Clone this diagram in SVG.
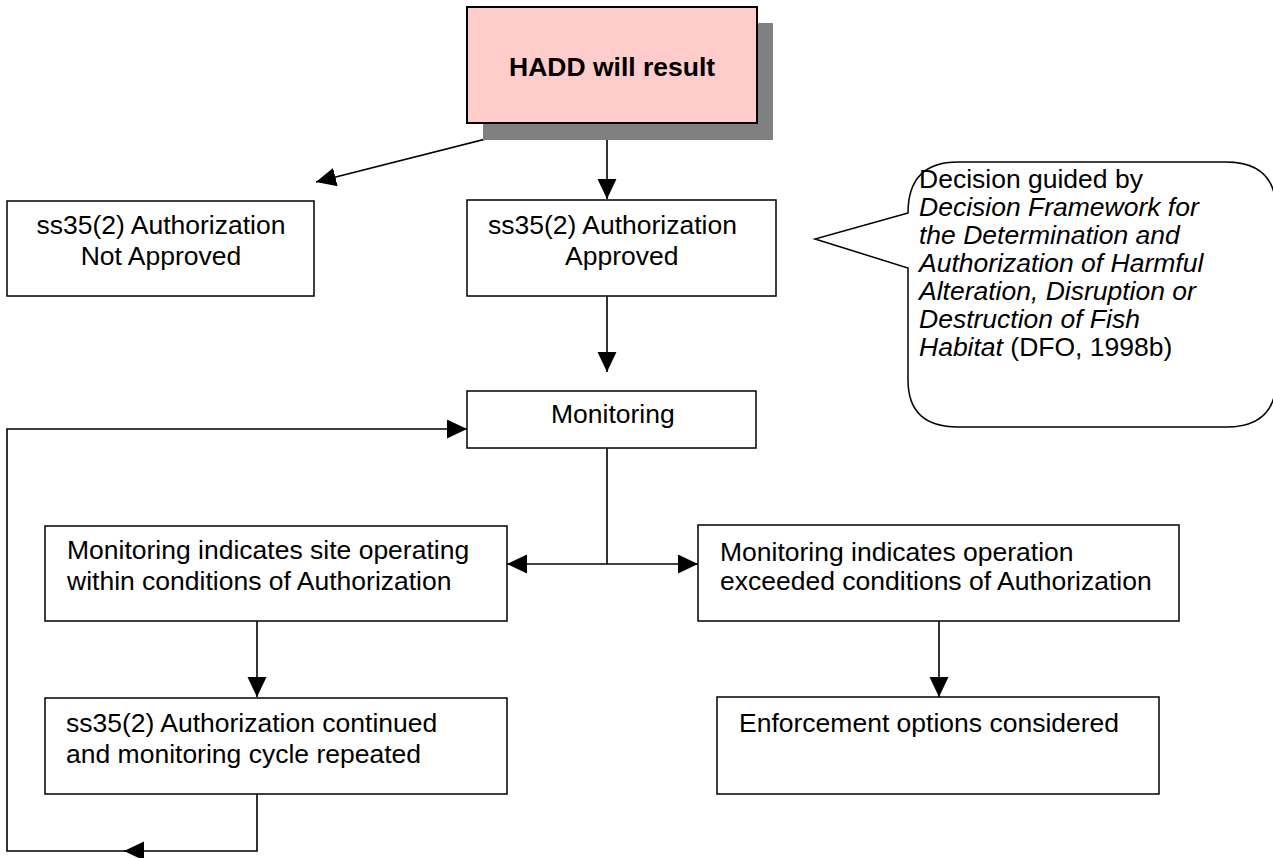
<svg xmlns="http://www.w3.org/2000/svg" width="1273" height="858" viewBox="0 0 1273 858">
<style>
text{font-family:"Liberation Sans",Arial,sans-serif;font-size:26.5px;fill:#000}
.box{fill:#fff;stroke:#000;stroke-width:1.5}
.c{fill:none;stroke:#000;stroke-width:1.6}
.b{font-weight:bold}
.i{font-style:italic}
</style>
<defs>
<marker id="ah" markerUnits="userSpaceOnUse" markerWidth="21" markerHeight="20" refX="20" refY="9.5" orient="auto">
<path d="M0,0 L20,9.5 L0,19 Z" fill="#000"/>
</marker>
</defs>
<rect width="1273" height="858" fill="#fff"/>
<g id="connectors">
<line class="c" x1="545" y1="124" x2="316" y2="182" marker-end="url(#ah)"/>
<line class="c" x1="607" y1="124" x2="607" y2="199" marker-end="url(#ah)"/>
<line class="c" x1="607" y1="296" x2="607" y2="372" marker-end="url(#ah)"/>
<line class="c" x1="607" y1="448" x2="607" y2="564"/>
<line class="c" x1="607" y1="564" x2="507" y2="564" marker-end="url(#ah)"/>
<line class="c" x1="607" y1="564" x2="698" y2="564" marker-end="url(#ah)"/>
<line class="c" x1="257" y1="621" x2="257" y2="697" marker-end="url(#ah)"/>
<line class="c" x1="939" y1="621" x2="939" y2="697" marker-end="url(#ah)"/>
<polyline class="c" points="257,794 257,851 124,851" marker-end="url(#ah)"/>
<polyline class="c" points="143,851 7,851 7,429 467,429" marker-end="url(#ah)"/>
</g>
<g id="hadd">
<rect x="483" y="23" width="290" height="117" fill="#808080"/>
<rect x="467" y="7" width="290" height="116" fill="#ffcccc" stroke="#000" stroke-width="2"/>
<text class="b" x="509" y="76">HADD will result</text>
</g>
<g id="not-approved">
<rect class="box" x="7" y="201" width="307" height="95"/>
<text x="161" y="234" text-anchor="middle">ss35(2) Authorization</text>
<text x="161" y="265" text-anchor="middle">Not Approved</text>
</g>
<g id="approved">
<rect class="box" x="467" y="200" width="309" height="96"/>
<text x="488" y="234">ss35(2) Authorization</text>
<text x="565" y="265">Approved</text>
</g>
<g id="decision-note">
<path d="M908,213 L815,239 L908,268 L908,380 Q908,427 958,427 L1226,427 Q1276,427 1276,380 L1276,210 Q1276,162 1226,162 L958,162 Q908,162 908,213 Z" fill="#fff" stroke="#000" stroke-width="1.5"/>
<text x="919" y="188">Decision guided by</text>
<text class="i" x="919" y="216">Decision Framework for</text>
<text class="i" x="919" y="244">the Determination and</text>
<text class="i" x="919" y="272">Authorization of Harmful</text>
<text class="i" x="919" y="300">Alteration, Disruption or</text>
<text class="i" x="919" y="328">Destruction of Fish</text>
<text x="919" y="356"><tspan class="i">Habitat</tspan> (DFO, 1998b)</text>
</g>
<g id="monitoring">
<rect class="box" x="467" y="391" width="289" height="57"/>
<text x="551" y="423">Monitoring</text>
</g>
<g id="within">
<rect class="box" x="45" y="526" width="462" height="95"/>
<text x="67" y="559">Monitoring indicates site operating</text>
<text x="67" y="590">within conditions of Authorization</text>
</g>
<g id="exceeded">
<rect class="box" x="698" y="525" width="481" height="96"/>
<text x="720" y="561">Monitoring indicates operation</text>
<text x="720" y="590">exceeded conditions of Authorization</text>
</g>
<g id="continued">
<rect class="box" x="45" y="698" width="462" height="96"/>
<text x="66" y="732">ss35(2) Authorization continued</text>
<text x="66" y="763">and monitoring cycle repeated</text>
</g>
<g id="enforcement">
<rect class="box" x="717" y="697" width="442" height="97"/>
<text x="739" y="732">Enforcement options considered</text>
</g>
</svg>
